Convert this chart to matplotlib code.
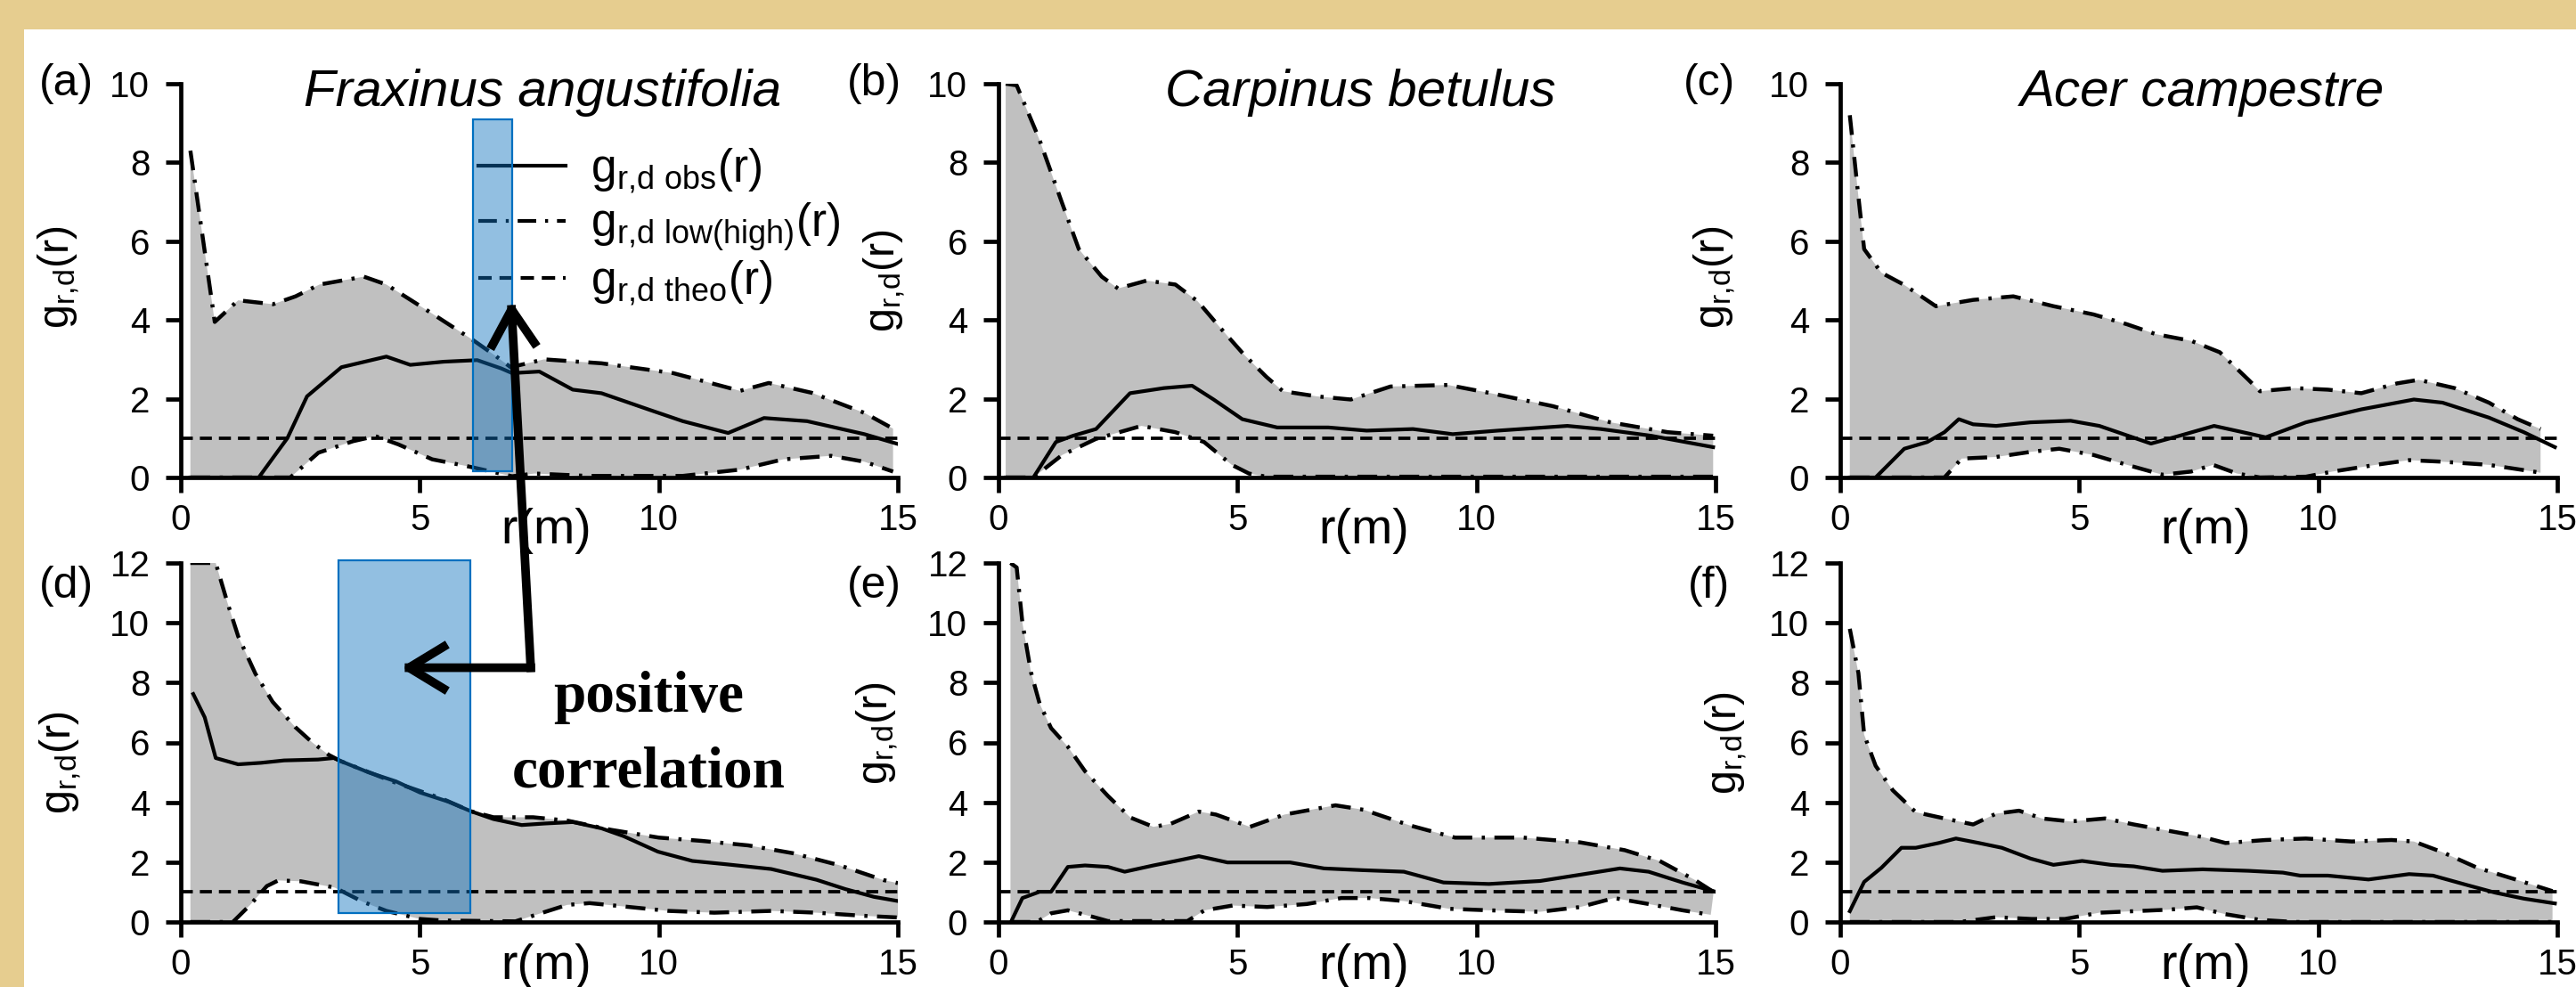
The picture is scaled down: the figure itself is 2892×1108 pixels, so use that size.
import numpy as np
import matplotlib
matplotlib.use("Agg")
import matplotlib.pyplot as plt
from matplotlib.patches import Rectangle
from matplotlib.lines import Line2D

plt.rcParams["font.family"] = ["Liberation Sans", "DejaVu Sans"]
plt.rcParams["mathtext.default"] = "regular"

# ---- data (r in m, g_rd(r)) ----
species = ["Fraxinus angustifolia", "Carpinus betulus", "Acer campestre"]
panel_tags = ["(a)", "(b)", "(c)", "(d)", "(e)", "(f)"]
x_ticks = [0, 5, 10, 15]
y_max = [10, 10, 10, 12, 12, 12]
g_theo = 1.0

# (a)
a_hi_r = [0.2, 0.71, 1.2, 1.93, 2.4, 2.9, 3.83, 4.3, 5.26, 6.1, 6.57, 6.9, 7.6, 8.8, 10.3, 11.7, 12.3, 13.2, 14.3, 14.9]
a_hi_g = [8.3, 3.95, 4.5, 4.4, 4.6, 4.9, 5.1, 4.9, 4.16, 3.5, 3.1, 2.8, 3.0, 2.9, 2.65, 2.2, 2.4, 2.15, 1.64, 1.24]
a_lo_r = [0.2, 2.29, 2.88, 3.6, 4.07, 4.55, 5.26, 5.98, 6.57, 6.93, 7.4, 8.5, 10.5, 11.7, 12.6, 13.6, 14.3, 14.9]
a_lo_g = [0, 0, 0.63, 0.92, 1.05, 0.84, 0.46, 0.29, 0.13, 0.03, 0.1, 0.04, 0.04, 0.2, 0.46, 0.55, 0.4, 0.15]
a_obs_r = [0.2, 1.63, 2.23, 2.64, 3.36, 4.3, 4.8, 5.5, 6.2, 6.7, 6.93, 7.5, 8.2, 8.8, 9.8, 10.5, 11.45, 12.2, 13.1, 14.3, 15.0]
a_obs_g = [0, 0, 1.0, 2.06, 2.8, 3.07, 2.86, 2.94, 2.98, 2.77, 2.65, 2.69, 2.23, 2.14, 1.72, 1.43, 1.13, 1.51, 1.43, 1.1, 0.85]

# (b)
b_hi_r = [0.15, 0.38, 0.85, 1.33, 1.68, 2.16, 2.5, 3.1, 3.7, 4.17, 4.64, 5.12, 5.6, 5.95, 6.66, 7.37, 8.2, 9.4, 10.3, 11.6, 12.8, 14.0, 14.95]
b_hi_g = [10.0, 9.96, 8.6, 6.97, 5.8, 5.1, 4.8, 5.0, 4.9, 4.47, 3.8, 3.14, 2.56, 2.19, 2.06, 1.98, 2.31, 2.35, 2.14, 1.81, 1.4, 1.15, 1.06]
b_lo_r = [0.15, 0.73, 1.33, 2.04, 2.99, 3.7, 4.3, 4.88, 5.24, 5.6, 14.95]
b_lo_g = [0, 0, 0.57, 0.98, 1.31, 1.15, 0.9, 0.32, 0.1, 0.02, 0.02]
b_obs_r = [0.15, 0.73, 1.2, 1.56, 2.04, 2.75, 3.46, 4.05, 4.5, 5.1, 5.83, 6.9, 7.7, 8.67, 9.5, 10.45, 11.9, 12.6, 13.65, 14.95]
b_obs_g = [0, 0, 0.9, 1.06, 1.23, 2.14, 2.27, 2.33, 1.98, 1.48, 1.27, 1.27, 1.19, 1.23, 1.1, 1.19, 1.31, 1.23, 1.06, 0.77]

# (c)
c_hi_r = [0.2, 0.38, 0.5, 0.86, 1.34, 2.0, 2.78, 3.62, 4.46, 5.3, 6.0, 6.6, 7.34, 7.94, 8.54, 8.78, 9.5, 10.2, 10.9, 11.65, 12.1, 12.85, 13.57, 14.17, 14.65]
c_hi_g = [9.2, 7.13, 5.8, 5.2, 4.89, 4.35, 4.51, 4.6, 4.35, 4.14, 3.89, 3.64, 3.47, 3.18, 2.48, 2.19, 2.27, 2.23, 2.14, 2.39, 2.48, 2.27, 1.9, 1.48, 1.23]
c_lo_r = [0.2, 2.18, 2.54, 3.26, 3.98, 4.58, 5.3, 6.0, 6.74, 7.34, 7.8, 8.3, 8.78, 9.74, 10.3, 11.2, 11.9, 12.6, 13.57, 14.5, 14.65]
c_lo_g = [0, 0, 0.48, 0.52, 0.65, 0.73, 0.57, 0.32, 0.07, 0.15, 0.32, 0.1, 0, 0.02, 0.15, 0.32, 0.44, 0.4, 0.32, 0.15, 0.12]
c_obs_r = [0.2, 0.74, 1.34, 1.82, 2.18, 2.48, 2.78, 3.26, 3.98, 4.82, 5.42, 6.02, 6.5, 7.1, 7.82, 8.42, 8.9, 9.74, 10.9, 12.0, 12.6, 13.57, 14.3, 14.95]
c_obs_g = [0, 0, 0.73, 0.9, 1.15, 1.48, 1.35, 1.31, 1.4, 1.44, 1.31, 1.06, 0.86, 1.06, 1.31, 1.15, 1.02, 1.4, 1.73, 1.98, 1.9, 1.52, 1.15, 0.77]

# (d)
d_hi_r = [0.2, 0.73, 0.97, 1.2, 1.56, 1.92, 2.39, 2.75, 3.1, 3.34, 4.5, 5.47, 6.07, 6.54, 7.37, 8.08, 9.0, 10.0, 10.9, 11.87, 12.8, 13.77, 14.7, 15.0]
d_hi_g = [12, 12, 10.7, 9.55, 8.3, 7.36, 6.52, 6.0, 5.58, 5.38, 4.65, 4.12, 3.7, 3.5, 3.5, 3.39, 3.08, 2.82, 2.71, 2.56, 2.3, 1.9, 1.4, 1.3]
d_lo_r = [0.2, 1.09, 1.45, 1.8, 2.04, 2.51, 3.22, 3.8, 4.3, 5.0, 5.47, 7.0, 7.37, 8.08, 8.55, 9.26, 10.2, 11.16, 12.35, 13.3, 14.24, 15.0]
d_lo_g = [0, 0, 0.57, 1.2, 1.39, 1.36, 1.15, 0.68, 0.37, 0.1, 0.05, 0.02, 0.21, 0.57, 0.63, 0.52, 0.37, 0.31, 0.37, 0.31, 0.21, 0.15]
d_obs_r = [0.26, 0.5, 0.73, 1.2, 1.68, 2.16, 2.87, 3.2, 3.34, 3.93, 4.5, 5.0, 5.6, 6.07, 6.54, 7.13, 7.6, 8.2, 8.8, 9.26, 9.98, 10.7, 11.4, 12.35, 13.3, 13.9, 14.5, 15.0]
d_obs_g = [7.62, 6.84, 5.48, 5.27, 5.32, 5.4, 5.43, 5.48, 5.38, 5.0, 4.7, 4.33, 4.02, 3.7, 3.44, 3.24, 3.29, 3.34, 3.13, 2.87, 2.35, 2.04, 1.93, 1.77, 1.41, 1.1, 0.84, 0.7]

# (e)
e_hi_r = [0.25, 0.38, 0.5, 0.68, 0.86, 1.1, 1.45, 1.81, 2.29, 2.76, 3.24, 3.6, 4.19, 4.55, 5.26, 5.98, 7.05, 7.64, 8.6, 9.55, 10.98, 12.17, 13.1, 13.83, 14.55, 14.96]
e_hi_g = [12, 11.85, 10.0, 8.34, 7.3, 6.48, 5.86, 5.04, 4.21, 3.49, 3.18, 3.28, 3.69, 3.59, 3.18, 3.59, 3.9, 3.75, 3.23, 2.82, 2.82, 2.66, 2.4, 2.04, 1.42, 1.0]
e_lo_r = [0.25, 0.8, 1.1, 1.45, 1.93, 2.29, 3.95, 4.31, 4.9, 5.62, 6.45, 7.17, 7.76, 8.48, 9.43, 10.26, 11.33, 12.17, 12.88, 13.6, 14.31, 14.9]
e_lo_g = [0, 0, 0.29, 0.39, 0.19, 0.03, 0.03, 0.39, 0.55, 0.5, 0.6, 0.8, 0.8, 0.7, 0.44, 0.39, 0.34, 0.5, 0.8, 0.6, 0.39, 0.24]
e_obs_r = [0.26, 0.5, 0.86, 1.1, 1.45, 1.81, 2.29, 2.64, 3.24, 3.71, 4.19, 4.79, 5.5, 6.1, 6.81, 7.64, 8.48, 9.31, 10.26, 11.33, 12.17, 13.0, 13.6, 14.31, 15.0]
e_obs_g = [0, 0.8, 1.01, 1.01, 1.84, 1.89, 1.84, 1.68, 1.89, 2.04, 2.2, 1.99, 1.99, 1.99, 1.79, 1.73, 1.68, 1.32, 1.27, 1.37, 1.58, 1.79, 1.68, 1.32, 1.01]

# (f)
f_hi_r = [0.2, 0.38, 0.5, 0.74, 1.1, 1.58, 2.18, 2.78, 3.26, 3.74, 4.22, 4.82, 5.54, 6.14, 6.86, 7.58, 8.06, 8.9, 9.74, 10.7, 11.53, 12.0, 12.6, 13.33, 14.17, 14.9]
f_hi_g = [9.8, 8.32, 6.26, 5.22, 4.4, 3.67, 3.46, 3.26, 3.62, 3.72, 3.46, 3.36, 3.46, 3.26, 3.05, 2.84, 2.64, 2.74, 2.79, 2.69, 2.74, 2.69, 2.33, 1.81, 1.4, 1.03]
f_lo_r = [0.2, 2.5, 3.26, 4.0, 4.7, 5.42, 6.14, 6.86, 7.46, 8.06, 8.78, 9.5, 14.9]
f_lo_g = [0, 0, 0.16, 0.1, 0.1, 0.31, 0.36, 0.41, 0.49, 0.26, 0.07, 0, 0]
f_obs_r = [0.2, 0.5, 0.86, 1.28, 1.58, 2.06, 2.42, 2.9, 3.38, 3.98, 4.46, 5.06, 5.66, 6.14, 6.74, 7.58, 8.54, 9.26, 9.62, 10.2, 11.05, 11.9, 12.4, 13.1, 13.7, 14.3, 14.95]
f_obs_g = [0.36, 1.34, 1.81, 2.48, 2.48, 2.64, 2.79, 2.64, 2.48, 2.12, 1.91, 2.04, 1.91, 1.86, 1.71, 1.76, 1.71, 1.65, 1.55, 1.55, 1.42, 1.6, 1.55, 1.24, 0.98, 0.78, 0.62]

panels = [
    (a_hi_r, a_hi_g, a_lo_r, a_lo_g, a_obs_r, a_obs_g),
    (b_hi_r, b_hi_g, b_lo_r, b_lo_g, b_obs_r, b_obs_g),
    (c_hi_r, c_hi_g, c_lo_r, c_lo_g, c_obs_r, c_obs_g),
    (d_hi_r, d_hi_g, d_lo_r, d_lo_g, d_obs_r, d_obs_g),
    (e_hi_r, e_hi_g, e_lo_r, e_lo_g, e_obs_r, e_obs_g),
    (f_hi_r, f_hi_g, f_lo_r, f_lo_g, f_obs_r, f_obs_g),
]

# highlighted r-ranges (data units of panels a and d)
hl_a = (6.12, 6.94, 0.16, 9.1)
hl_d = (3.3, 6.06, 0.3, 12.09)

# ---- layout (pixels of the 2892x1108 canvas) ----
W, H = 2892, 1108
col_x = [203, 1121, 2066]
ax_w = 805
row_y = [(94, 536), (632, 1035)]
tag_dx = [-0.160, -0.173, -0.183]
ylab_pos = [(-0.138, 0.51), (-0.127, 0.50), (-0.143, 0.51),
            (-0.135, 0.445), (-0.137, 0.525), (-0.127, 0.50)]

DASHDOT = (0, (5, 2.4, 0.8, 2.4))
DASHED = (0, (3.6, 2.1))
YLABEL = r"$\mathregular{g_{r{,}d}(r)}$"

fig = plt.figure(figsize=(W / 100, H / 100), dpi=100)
fig.patch.set_facecolor("#e6cd8f")
fig.add_artist(Rectangle((27 / W, 0), 1, (H - 33) / H, transform=fig.transFigure,
                         facecolor="white", edgecolor="none", zorder=-5))

axes = []
for i, (hr, hg, lr, lg, orr, og) in enumerate(panels):
    row, col = divmod(i, 3)
    top, bot = row_y[row]
    ax = fig.add_axes([col_x[col] / W, 1 - bot / H, ax_w / W, (bot - top) / H])
    axes.append(ax)

    # envelope band as one polygon
    ax.fill(np.concatenate([hr, lr[::-1]]), np.concatenate([hg, lg[::-1]]),
            color="#c0c0c0", lw=0, zorder=1)
    ax.plot(hr, hg, color="black", lw=3.2, ls=DASHDOT, zorder=3)
    ax.plot(lr, lg, color="black", lw=3.2, ls=DASHDOT, zorder=3)
    ax.plot(x_ticks[::3], [g_theo, g_theo], color="black", lw=2.7, ls=DASHED, zorder=3)
    ax.plot(orr, og, color="black", lw=3.0, zorder=4)

    ax.set_xlim(0, 15)
    ax.set_ylim(0, y_max[i])
    ax.set_xticks(x_ticks)
    ax.set_yticks(np.arange(0, y_max[i] + 1, 2))
    for s in ["top", "right"]:
        ax.spines[s].set_visible(False)
    for s in ["left", "bottom"]:
        ax.spines[s].set_linewidth(3.4)
    ax.tick_params(direction="out", length=12, width=3.4, labelsize=29)
    ax.tick_params(axis="y", pad=13)
    ax.tick_params(axis="x", pad=9)

    ax.set_ylabel(YLABEL, fontsize=35)
    ax.yaxis.set_label_coords(*ylab_pos[i])
    ax.text(0.51, -0.135 if row == 0 else -0.125, "r(m)", transform=ax.transAxes,
            ha="center", va="center", fontsize=40)
    tag_y = 1.0 if row == 0 else 0.935
    ax.text(tag_dx[col], tag_y, panel_tags[i], transform=ax.transAxes,
            ha="center", va="center", fontsize=36)
    if row == 0:
        ax.text(0.505, 0.978, species[col], transform=ax.transAxes, ha="center",
                va="center", fontsize=42, style="italic")

ax_a, ax_d = axes[0], axes[3]

handles = [Line2D([], [], color="black", lw=3.0),
           Line2D([], [], color="black", lw=3.0, ls=DASHDOT),
           Line2D([], [], color="black", lw=3.0, ls=DASHED)]
labels = [r"$\mathregular{g_{r{,}d\ obs}(r)}$",
          r"$\mathregular{g_{r{,}d\ low(high)}(r)}$",
          r"$\mathregular{g_{r{,}d\ theo}(r)}$"]
ax_a.legend(handles, labels, loc="upper left", bbox_to_anchor=(0.415, 0.84),
            frameon=False, fontsize=37, handlelength=1.9, handletextpad=0.55,
            labelspacing=0.12, borderpad=0, borderaxespad=0)

# highlighted boxes
for ax, (x0, x1, y0, y1) in [(ax_a, hl_a), (ax_d, hl_d)]:
    ax.add_patch(Rectangle((x0, y0), x1 - x0, y1 - y0, facecolor="#0f71bd", alpha=0.45,
                           edgecolor="none", zorder=6, clip_on=False))
    ax.add_patch(Rectangle((x0, y0), x1 - x0, y1 - y0, facecolor="none",
                           edgecolor="#0070c0", lw=1.6, zorder=7, clip_on=False))

# elbow arrow linking the two highlighted ranges
corner = (7.32, 8.5)
arrow_kw = dict(arrowstyle="->,head_length=1.4,head_width=0.85", color="black",
                lw=7, shrinkA=0, shrinkB=0, mutation_scale=20,
                capstyle="projecting", joinstyle="round")
ax_d.annotate("", xy=(6.91, 4.48), xycoords=ax_a.transData, xytext=corner,
              textcoords="data", arrowprops=arrow_kw, annotation_clip=False, zorder=20)
ax_d.annotate("", xy=(4.6, 8.5), xycoords="data", xytext=corner,
              textcoords="data", arrowprops=arrow_kw, annotation_clip=False, zorder=20)

for txt, yy in [("positive", 7.5), ("correlation", 4.98)]:
    ax_d.text(9.78, yy, txt, ha="center", va="center", fontsize=47,
              family="Liberation Serif", weight="bold", zorder=20)

fig.savefig("out.png", dpi=100, facecolor=fig.get_facecolor())
